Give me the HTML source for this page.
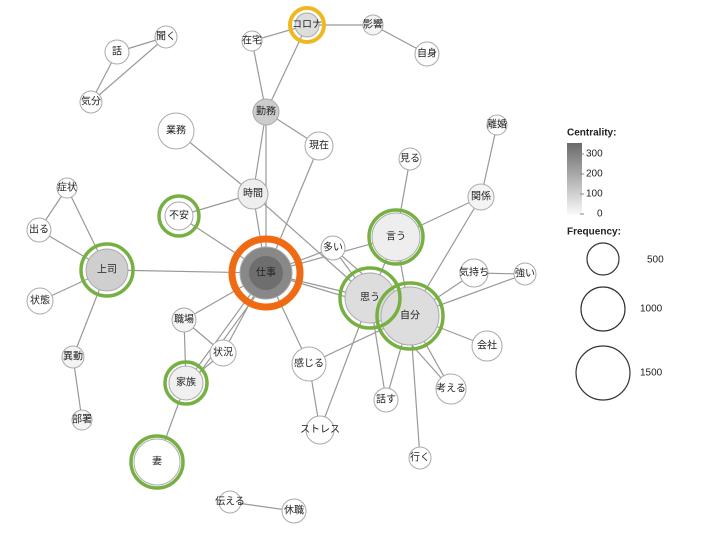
<!DOCTYPE html>
<html><head><meta charset="utf-8"><style>
html,body{margin:0;padding:0;background:#fff;width:720px;height:539px;overflow:hidden}
svg{display:block}
text{font-family:"Liberation Sans","Noto Sans CJK JP",sans-serif;font-size:10px;fill:#222;text-anchor:middle;dominant-baseline:central}
</style></head><body>
<svg width="720" height="539" viewBox="0 0 720 539">
<defs><linearGradient id="g" x1="0" y1="0" x2="0" y2="1"><stop offset="0" stop-color="#6a6a6a"/><stop offset="1" stop-color="#fafafa"/></linearGradient></defs>
<g stroke="#999" stroke-width="1.2">
<line x1="307" y1="25" x2="252" y2="41"/><line x1="307" y1="25" x2="373" y2="25"/><line x1="373" y1="25" x2="427" y2="54"/>
<line x1="307" y1="25" x2="266" y2="112"/><line x1="252" y1="41" x2="266" y2="112"/>
<line x1="117" y1="52" x2="166" y2="37"/><line x1="117" y1="52" x2="91" y2="102"/><line x1="166" y1="37" x2="91" y2="102"/>
<line x1="266" y1="112" x2="319" y2="146"/><line x1="266" y1="112" x2="253" y2="194"/><line x1="266" y1="112" x2="266" y2="273"/>
<line x1="176" y1="131" x2="253" y2="194"/><line x1="319" y1="146" x2="266" y2="273"/>
<line x1="253" y1="194" x2="179" y2="216"/><line x1="253" y1="194" x2="266" y2="273"/><line x1="253" y1="194" x2="370" y2="298"/>
<line x1="179" y1="216" x2="266" y2="273"/>
<line x1="67" y1="188" x2="39" y2="230"/><line x1="67" y1="188" x2="107" y2="270"/><line x1="39" y1="230" x2="107" y2="270"/>
<line x1="107" y1="270" x2="40" y2="301"/><line x1="107" y1="270" x2="73" y2="357"/><line x1="73" y1="357" x2="82" y2="420"/>
<line x1="107" y1="270" x2="266" y2="273"/>
<line x1="266" y1="273" x2="333" y2="248"/><line x1="266" y1="273" x2="396" y2="237"/><line x1="266" y1="273" x2="370" y2="298"/>
<line x1="266" y1="273" x2="410" y2="316"/><line x1="266" y1="273" x2="184" y2="320"/><line x1="266" y1="273" x2="223" y2="353"/>
<line x1="266" y1="273" x2="186" y2="383"/><line x1="270" y1="276" x2="190" y2="386"/><line x1="266" y1="273" x2="309" y2="364"/>
<line x1="333" y1="248" x2="370" y2="298"/><line x1="333" y1="248" x2="410" y2="316"/>
<line x1="410" y1="159" x2="396" y2="237"/><line x1="396" y1="237" x2="481" y2="197"/><line x1="396" y1="237" x2="370" y2="298"/>
<line x1="396" y1="237" x2="410" y2="316"/><line x1="481" y1="197" x2="497" y2="125"/><line x1="481" y1="197" x2="410" y2="316"/>
<line x1="474" y1="273" x2="410" y2="316"/><line x1="474" y1="273" x2="525" y2="274"/><line x1="525" y1="274" x2="410" y2="316"/>
<line x1="410" y1="316" x2="487" y2="346"/><line x1="410" y1="316" x2="451" y2="389"/><line x1="370" y1="298" x2="451" y2="389"/>
<line x1="410" y1="316" x2="386" y2="400"/><line x1="370" y1="298" x2="386" y2="400"/><line x1="410" y1="316" x2="420" y2="458"/>
<line x1="370" y1="298" x2="320" y2="430"/><line x1="410" y1="316" x2="309" y2="364"/><line x1="309" y1="364" x2="320" y2="430"/>
<line x1="184" y1="320" x2="223" y2="353"/><line x1="184" y1="320" x2="186" y2="383"/><line x1="223" y1="353" x2="186" y2="383"/>
<line x1="186" y1="383" x2="157" y2="462"/><line x1="230" y1="502" x2="294" y2="511"/>
</g>
<g stroke="#aaa" stroke-width="1">
<circle cx="252" cy="41" r="10" fill="#fff"/><circle cx="373" cy="25" r="10" fill="#f4f4f4"/><circle cx="427" cy="54" r="12" fill="#fff"/>
<circle cx="117" cy="52" r="12" fill="#fff"/><circle cx="166" cy="37" r="11" fill="#fff"/><circle cx="91" cy="102" r="11" fill="#fff"/>
<circle cx="266" cy="112" r="13" fill="#ccc"/><circle cx="176" cy="131" r="18" fill="#fff"/><circle cx="319" cy="146" r="14" fill="#fff"/>
<circle cx="253" cy="194" r="15" fill="#eee"/><circle cx="179" cy="216" r="14" fill="#fff"/>
<circle cx="67" cy="188" r="10" fill="#fff"/><circle cx="39" cy="230" r="12" fill="#fff"/><circle cx="107" cy="270" r="21" fill="#cfcfcf"/>
<circle cx="40" cy="301" r="13" fill="#fff"/><circle cx="73" cy="357" r="11" fill="#f4f4f4"/><circle cx="82" cy="420" r="10" fill="#f4f4f4"/>
<circle cx="266" cy="273" r="26" fill="#888"/><circle cx="266" cy="273" r="17" fill="#6e6e6e" stroke="none"/>
<circle cx="333" cy="248" r="12" fill="#fff"/><circle cx="410" cy="159" r="11" fill="#fff"/><circle cx="497" cy="125" r="10" fill="#fff"/>
<circle cx="481" cy="197" r="13" fill="#f4f4f4"/><circle cx="474" cy="273" r="14" fill="#fff"/><circle cx="525" cy="274" r="11" fill="#fff"/>
<circle cx="396" cy="237" r="24" fill="#eee"/><circle cx="370" cy="298" r="25" fill="#ddd"/><circle cx="410" cy="316" r="29" fill="#ddd"/>
<circle cx="487" cy="346" r="15" fill="#fff"/><circle cx="451" cy="389" r="15" fill="#fff"/><circle cx="386" cy="400" r="12" fill="#fff"/>
<circle cx="420" cy="458" r="11" fill="#fff"/><circle cx="309" cy="364" r="17" fill="#fff"/><circle cx="320" cy="430" r="14" fill="#fff"/>
<circle cx="184" cy="320" r="12" fill="#f4f4f4"/><circle cx="223" cy="353" r="13" fill="#fff"/><circle cx="186" cy="383" r="17" fill="#f0f0f0"/>
<circle cx="157" cy="462" r="23" fill="#fff"/><circle cx="230" cy="502" r="11" fill="#fff"/><circle cx="294" cy="511" r="12" fill="#fff"/>
<circle cx="307" cy="25" r="12" fill="#ddd"/>
</g>
<g fill="none">
<circle cx="307" cy="25" r="17" stroke="#f0b820" stroke-width="4"/>
<circle cx="266" cy="273" r="34" stroke="#f06a14" stroke-width="7"/>
<g stroke="#76b043" stroke-width="3.5">
<circle cx="179" cy="216" r="20"/><circle cx="107" cy="270" r="26"/><circle cx="396" cy="237" r="27"/>
<circle cx="370" cy="298" r="30"/><circle cx="410" cy="316" r="33"/><circle cx="186" cy="383" r="21"/><circle cx="157" cy="462" r="26"/>
</g></g>
<text x="307" y="25">コロナ</text><text x="252" y="41">在宅</text><text x="373" y="25">影響</text><text x="427" y="54">自身</text>
<text x="117" y="52">話</text><text x="166" y="37">聞く</text><text x="91" y="102">気分</text>
<text x="266" y="112">勤務</text><text x="176" y="131">業務</text><text x="319" y="146">現在</text><text x="253" y="194">時間</text>
<text x="179" y="216">不安</text><text x="67" y="188">症状</text><text x="39" y="230">出る</text><text x="107" y="270">上司</text>
<text x="40" y="301">状態</text><text x="73" y="357">異動</text><text x="82" y="420">部署</text><text x="266" y="273">仕事</text>
<text x="333" y="248">多い</text><text x="410" y="159">見る</text><text x="497" y="125">離婚</text><text x="481" y="197">関係</text>
<text x="396" y="237">言う</text><text x="474" y="273">気持ち</text><text x="525" y="274">強い</text><text x="370" y="298">思う</text>
<text x="410" y="316">自分</text><text x="487" y="346">会社</text><text x="451" y="389">考える</text><text x="386" y="400">話す</text>
<text x="420" y="458">行く</text><text x="309" y="364">感じる</text><text x="320" y="430">ストレス</text><text x="184" y="320">職場</text>
<text x="223" y="353">状況</text><text x="186" y="383">家族</text><text x="157" y="462">妻</text><text x="230" y="502">伝える</text><text x="294" y="511">休職</text>
<text x="567" y="133" style="text-anchor:start;font-weight:bold;font-size:10px">Centrality:</text>
<rect x="567" y="143" width="15" height="72" fill="url(#g)"/>
<g stroke="#888" stroke-width="1"><line x1="580" y1="154" x2="584" y2="154"/><line x1="580" y1="174" x2="584" y2="174"/><line x1="580" y1="194" x2="584" y2="194"/><line x1="580" y1="214" x2="584" y2="214"/></g>
<text x="586" y="154" style="text-anchor:start">300</text><text x="586" y="174" style="text-anchor:start">200</text>
<text x="586" y="194" style="text-anchor:start">100</text><text x="597" y="214" style="text-anchor:start">0</text>
<text x="567" y="232" style="text-anchor:start;font-weight:bold">Frequency:</text>
<g fill="none" stroke="#333" stroke-width="1.2"><circle cx="603" cy="259" r="16"/><circle cx="603" cy="309" r="22"/><circle cx="603" cy="373" r="27"/></g>
<text x="647" y="260" style="text-anchor:start">500</text><text x="640" y="309" style="text-anchor:start">1000</text><text x="640" y="373" style="text-anchor:start">1500</text>
</svg>
</body></html>
